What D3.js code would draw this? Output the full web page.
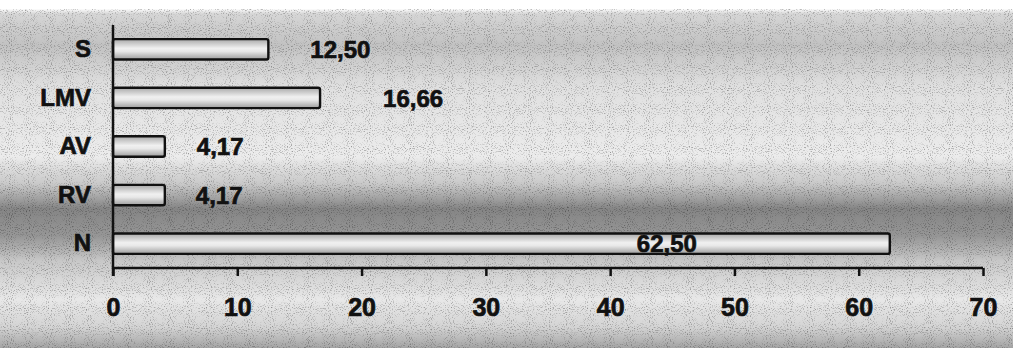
<!DOCTYPE html>
<html>
<head>
<meta charset="utf-8">
<script src="https://cdn.jsdelivr.net/npm/d3@7"></script>
<style>
  body { margin: 0; background: #fff; }
  svg { display: block; }
  text { font-family: "Liberation Sans", Arial, sans-serif; font-weight: bold; fill: #111; stroke: #111; stroke-width: 0.7px; }
</style>
</head>
<body>
<svg id="chart"></svg>
<script>
// data
const categories = ["S", "LMV", "AV", "RV", "N"];
const values = [12.50, 16.66, 4.17, 4.17, 62.50];
const valueLabels = ["12,50", "16,66", "4,17", "4,17", "62,50"];
const xTicks = [0, 10, 20, 30, 40, 50, 60, 70];
// where each value label sits relative to the end of its bar (px)
const labelDx = [42, 63, 32, 31, -253];

function drawChart() {
  const W = 1013, H = 348;
  const svg = d3.select("#chart").attr("width", W).attr("height", H);
  const defs = svg.append("defs");

  // scanned-paper background
  const bg = defs.append("linearGradient").attr("id", "bg")
      .attr("x1", 0).attr("y1", 0).attr("x2", 0).attr("y2", 1);
  [[0, "#ffffff"], [0.025, "#ffffff"], [0.04, "#d6d6d6"], [0.13, "#c2c2c2"], [0.25, "#e0e0e0"],
   [0.45, "#ececec"], [0.53, "#c8c8c8"], [0.6, "#858585"], [0.68, "#979797"], [0.75, "#c8c8c8"],
   [0.86, "#e8e8e8"], [0.94, "#d4d4d4"], [1, "#a4a4a4"]]
    .forEach(([o, c]) => bg.append("stop").attr("offset", o).attr("stop-color", c));

  const noise = defs.append("filter").attr("id", "noise")
      .attr("x", 0).attr("y", 0).attr("width", 1).attr("height", 1);
  noise.append("feTurbulence").attr("type", "fractalNoise")
      .attr("baseFrequency", 0.95).attr("numOctaves", 1).attr("seed", 3).attr("result", "t");
  noise.append("feColorMatrix").attr("type", "matrix")
      .attr("values", "0 0 0 0 0  0 0 0 0 0  0 0 0 0 0  0 0 0 -2.2 1.0");

  const barGrad = defs.append("linearGradient").attr("id", "barFill")
      .attr("x1", 0).attr("y1", 0).attr("x2", 0).attr("y2", 1);
  [[0, "#a8a8a8"], [0.45, "#f0f0f0"], [0.6, "#e8e8e8"], [1, "#9c9c9c"]]
    .forEach(([o, c]) => barGrad.append("stop").attr("offset", o).attr("stop-color", c));

  svg.append("rect").attr("width", W).attr("height", H).attr("fill", "url(#bg)");
  svg.append("rect").attr("y", 9).attr("width", W).attr("height", H - 9)
     .attr("filter", "url(#noise)").attr("opacity", 0.6);

  const x = d3.scaleLinear().domain([0, 70]).range([113, 983]);
  const y = d3.scaleBand().domain(categories).range([25, 268])
      .paddingInner(0.58).paddingOuter(0.29);

  const rows = categories.map((c, i) => ({cat: c, value: values[i], label: valueLabels[i], dx: labelDx[i]}));

  // bars
  svg.append("g").selectAll("rect").data(rows).join("rect")
     .attr("x", x(0))
     .attr("y", d => y(d.cat))
     .attr("width", d => x(d.value) - x(0))
     .attr("height", y.bandwidth())
     .attr("rx", 2)
     .attr("fill", "url(#barFill)")
     .attr("stroke", "#111")
     .attr("stroke-width", 2.4);

  // value labels
  svg.append("g").selectAll("text").data(rows).join("text")
     .attr("x", d => x(d.value) + d.dx)
     .attr("y", d => y(d.cat) + y.bandwidth() / 2)
     .attr("dy", "0.36em")
     .style("font-size", "24px")
     .text(d => d.label);

  // x axis
  const xAxis = svg.append("g")
     .attr("transform", "translate(0,268)")
     .call(d3.axisBottom(x).tickValues(xTicks).tickSize(8).tickPadding(22).tickFormat(d3.format("d")));
  xAxis.select(".domain").attr("stroke", "#111").attr("stroke-width", 2.5)
     .attr("d", "M" + x(0) + ",0H" + x(70));
  xAxis.selectAll(".tick line").attr("stroke", "#111").attr("stroke-width", 2.5);
  xAxis.selectAll(".tick text")
     .style("font-size", "25px").style("font-family", "'Liberation Sans', Arial, sans-serif")
     .style("font-weight", "bold").attr("fill", "#111");

  // y axis
  const yAxis = svg.append("g")
     .attr("transform", "translate(" + x(0) + ",0)")
     .call(d3.axisLeft(y).tickSize(0).tickPadding(22));
  yAxis.select(".domain").attr("stroke", "#111").attr("stroke-width", 2.5)
     .attr("d", "M0,25V276");
  yAxis.selectAll(".tick text")
     .style("font-size", "24px").style("font-family", "'Liberation Sans', Arial, sans-serif")
     .style("font-weight", "bold").attr("fill", "#111");
}

drawChart();
</script>
</body>
</html>
